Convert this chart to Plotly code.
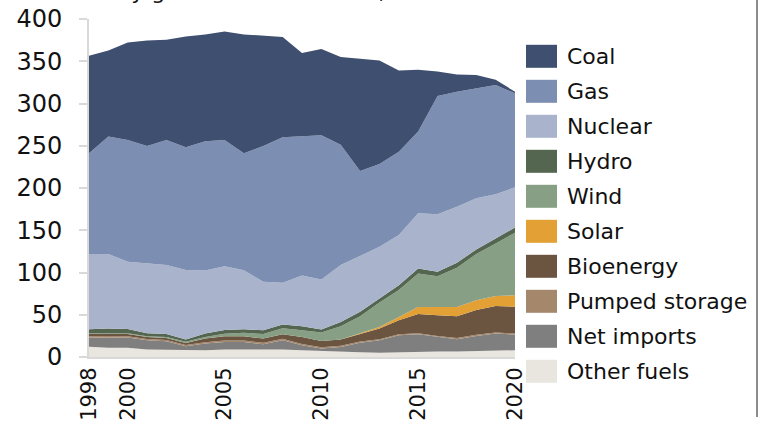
import plotly.graph_objects as go

years = list(range(1998, 2021))

other_fuels = [12, 11, 11, 9, 8.5, 8, 8, 9, 9, 8.5, 9, 8, 7, 6, 5.5, 5, 5.5, 6.5, 6.5, 6.5, 7, 7.5, 8]
net_imports = [11, 12.4, 12, 10.8, 10.1, 4.6, 7.9, 8.8, 8.8, 6.5, 10.8, 5.8, 3, 5.9, 11.5, 14.8, 20.2, 20.4, 17.2, 14.5, 17.9, 20.2, 18.5]
pumped_storage = [1.6, 1.6, 1.5, 1.5, 1.4, 1.5, 1.6, 1.6, 1.8, 1.8, 1.7, 1.5, 1.5, 1.4, 1.3, 1.3, 1.3, 1.3, 1.2, 1.5, 1.4, 1.3, 1.4]
bioenergy = [2.7, 2.7, 2.8, 2.4, 2.5, 2.5, 4.3, 5.1, 4.9, 5.0, 5.4, 8.4, 7.5, 7.3, 8.9, 12.5, 16.4, 22.6, 24.4, 25.8, 29.4, 31.3, 31.7]
solar = [0, 0, 0, 0, 0, 0, 0, 0, 0, 0, 0, 0, 0.04, 0.25, 1.35, 2.0, 4.0, 8.5, 10.0, 11.0, 11.5, 12.0, 13.5]
wind = [0.9, 0.9, 0.9, 1.0, 1.3, 1.3, 1.9, 2.9, 4.2, 5.3, 7.1, 7.9, 10, 15.5, 19.8, 28.8, 32, 39.5, 36.2, 46.3, 54.6, 62.1, 74]
hydro = [4.6, 5.0, 5.0, 3.5, 3.5, 2.9, 4.0, 4.6, 4.1, 4.5, 4.4, 4.7, 3.4, 5.2, 5.1, 4.8, 5.6, 6.0, 5.3, 5.9, 5.5, 5.9, 6.3]
nuclear = [89.0, 88.2, 79.4, 82.8, 81.7, 82.2, 74.7, 75.5, 70.0, 57.4, 49.4, 60.2, 59.3, 67.2, 66.0, 61.2, 59.3, 65.2, 68.0, 66.3, 60.5, 52.2, 47.4]
gas = [119.2, 139, 144.3, 138.8, 147.9, 145.2, 153, 149.4, 138.2, 160.8, 172.2, 164.8, 170.8, 142.3, 100.6, 98.1, 98.7, 96.8, 140.2, 136.2, 130.2, 129.5, 111.2]
coal = [115.5, 102, 115.4, 124.9, 118.6, 131.2, 126.4, 128.4, 140.8, 130.4, 118.6, 98.4, 101.9, 104, 133.3, 122.5, 96, 73.1, 28.9, 20.4, 15.6, 6, 2]

series_names = ["Other fuels", "Net imports", "Pumped storage", "Bioenergy", "Solar",
                "Wind", "Hydro", "Nuclear", "Gas", "Coal"]
series_values = [other_fuels, net_imports, pumped_storage, bioenergy, solar,
                 wind, hydro, nuclear, gas, coal]
series_colors = ["#e9e6e0", "#7f7f7f", "#a5876b", "#6b5540", "#e3a035",
                 "#87a085", "#546650", "#a9b4cc", "#7c8eb1", "#3f4f6f"]

x_ticks = [1998, 2000, 2005, 2010, 2015, 2020]
title_text = "Electricity generation in the UK, TWh"

W, H = 759, 421
L, R, T, B = 89, 244, 19, 64
PW, PH = W - L - R, H - T - B
FONT = "DejaVu Sans"
TXT = "#111111"


def px_x(px):
    return (px - L) / PW


def px_y(py):
    return (H - B - py) / PH


fig = go.Figure()
for name, vals, color in zip(series_names, series_values, series_colors):
    fig.add_trace(go.Scatter(
        x=years, y=vals, name=name, mode="lines", stackgroup="one",
        line=dict(width=0, color=color), fillcolor=color, showlegend=False,
    ))

shapes = []
annotations = []
# custom legend (top to bottom: Coal ... Other fuels)
for i, (name, color) in enumerate(zip(series_names[::-1], series_colors[::-1])):
    cy = 56.3 + i * 35
    shapes.append(dict(type="rect", xref="paper", yref="paper",
                       x0=px_x(526), x1=px_x(557), y0=px_y(cy + 11.5), y1=px_y(cy - 11.5),
                       fillcolor=color, line=dict(width=0)))
    annotations.append(dict(xref="paper", yref="paper", x=px_x(565), y=px_y(cy),
                            xanchor="left", yanchor="middle", showarrow=False,
                            text=name, font=dict(family=FONT, size=22, color=TXT)))

# right border line
shapes.append(dict(type="line", xref="paper", yref="paper",
                   x0=px_x(757), x1=px_x(757), y0=px_y(0), y1=px_y(417),
                   line=dict(color="#8c8c8c", width=2)))

# clipped title at top (only descenders visible in the reference)
annotations.append(dict(xref="paper", yref="paper", x=px_x(33), y=px_y(-8),
                        xanchor="left", yanchor="middle", showarrow=False,
                        text=title_text, font=dict(family=FONT, size=22, color=TXT)))

fig.update_layout(
    width=W, height=H,
    margin=dict(l=L, r=R, t=T, b=B, autoexpand=False),
    paper_bgcolor="white", plot_bgcolor="white",
    font=dict(family=FONT, size=22, color=TXT),
    shapes=shapes, annotations=annotations,
    showlegend=False,
    xaxis=dict(range=[1998, 2020], tickvals=x_ticks, ticktext=[str(v) for v in x_ticks],
               tickangle=-90, showgrid=False, zeroline=False, automargin=False,
               showline=True, linecolor="#d9d9d9", linewidth=2, ticks="",
               tickfont=dict(family=FONT, size=21, color=TXT)),
    yaxis=dict(range=[0, 400], dtick=50, showgrid=False, zeroline=False, automargin=False,
               showline=True, linecolor="#d9d9d9", linewidth=2,
               ticks="outside", ticklen=8, tickwidth=2, tickcolor="#d9d9d9",
               ticklabelstandoff=12,
               tickfont=dict(family=FONT, size=24, color=TXT)),
)

fig.write_html("out.html", config={"displayModeBar": False},
               post_script="document.body.style.margin='0';document.body.style.overflow='hidden';")
